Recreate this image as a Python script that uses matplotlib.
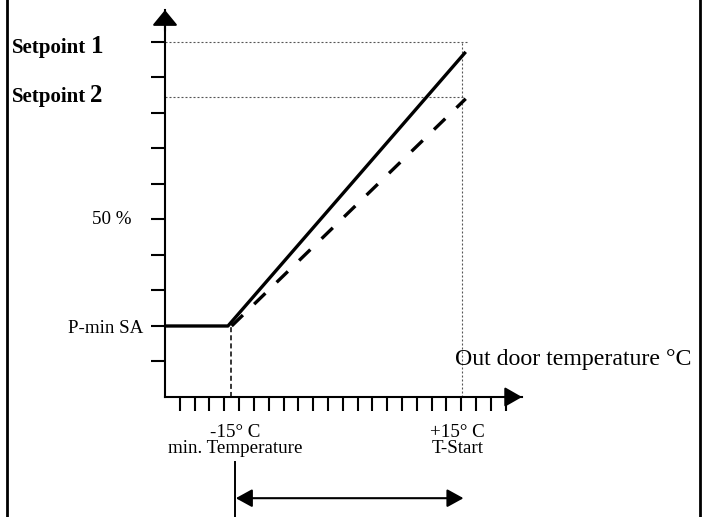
import numpy as np
import matplotlib
matplotlib.use("Agg")
import matplotlib.pyplot as plt
from matplotlib.lines import Line2D

plt.rcParams['font.family'] = ['Liberation Serif', 'DejaVu Serif']

# axis grid (in tick units)
x_ticks = np.arange(1, 24)
y_ticks = np.arange(1, 11)
x_end = 24.1
y_end = 10.9

# levels
p_min = 2.0
setpoint_1 = 10.0
setpoint_2 = 8.45
x_min_temp = 4.45   # -15 C
x_t_start = 20.05   # +15 C

# curves
curve1_x = [0, 4.25, 20.3]
curve1_y = [p_min, p_min, 9.72]
curve2_x = [4.5, 20.3]
curve2_y = [p_min, 8.4]

fs = 13.7

fig = plt.figure(figsize=(7.07, 5.17), dpi=100)
ax = fig.add_axes([165/707, 120/517, (522-165)/707, (397-10)/517])
ax.set_xlim(0, x_end)
ax.set_ylim(0, y_end)
for s in ['top', 'right']:
    ax.spines[s].set_visible(False)
for s in ['left', 'bottom']:
    ax.spines[s].set_linewidth(1.5)
ax.set_xticks(x_ticks)
ax.set_yticks(y_ticks)
ax.set_xticklabels([])
ax.set_yticklabels([])
ax.tick_params(direction='out', length=10, width=1.5, color='black')

# axis arrow heads
head = dict(arrowstyle='-|>,head_length=0.95,head_width=0.78', color='black',
            lw=1.5, mutation_scale=10, shrinkA=0, shrinkB=0)
ax.annotate('', xy=(0, y_end), xytext=(0, y_end - 0.6), arrowprops=head,
            annotation_clip=False)
ax.annotate('', xy=(x_end, 0), xytext=(x_end - 1.2, 0),
            arrowprops=dict(head, arrowstyle='-|>,head_length=1.05,head_width=0.6'),
            annotation_clip=False)

# helper lines
dot = dict(color='#555555', lw=0.8, ls=(0, (1.8, 1.8)), clip_on=False)
ax.plot([0, 20.4], [setpoint_1, setpoint_1], **dot)
ax.plot([0, 20.2], [setpoint_2, setpoint_2], **dot)
ax.plot([x_t_start, x_t_start], [0, setpoint_1], **dot)
ax.plot([x_min_temp, x_min_temp], [0, p_min], color='black', lw=1.1,
        ls=(0, (3.3, 2)))

# curves
ax.plot(curve1_x, curve1_y, color='black', lw=2.4, solid_capstyle='butt')
ax.plot(curve2_x, curve2_y, color='black', lw=2.4, ls=(0, (4.7, 4.7)))

# labels
ax.text(-10.35, 9.69, 'Setpoint', fontsize=15, fontweight='bold', va='baseline',
        ha='left', clip_on=False)
ax.text(-5.0, 9.69, '1', fontsize=18, fontweight='bold', va='baseline',
        ha='left', clip_on=False)
ax.text(-10.35, 8.31, 'Setpoint', fontsize=15, fontweight='bold', va='baseline',
        ha='left', clip_on=False)
ax.text(-5.05, 8.31, '2', fontsize=18, fontweight='bold', va='baseline',
        ha='left', clip_on=False)
ax.text(-2.23, 5.0, '50 %', fontsize=fs, ha='right', va='center', clip_on=False)
ax.text(-1.49, 1.94, 'P-min SA', fontsize=fs, ha='right', va='center', clip_on=False)
ax.text(19.6, 1.07, 'Out door temperature °C', fontsize=17.2, ha='left', va='center',
        clip_on=False)
ax.text(4.73, -1.0, '-15° C', fontsize=fs, ha='center', va='center', clip_on=False)
ax.text(4.73, -1.45, 'min. Temperature', fontsize=fs, ha='center', va='center',
        clip_on=False)
ax.text(19.75, -1.0, '+15° C', fontsize=fs, ha='center', va='center', clip_on=False)
ax.text(19.75, -1.45, 'T-Start', fontsize=fs, ha='center', va='center', clip_on=False)

# range marker below axis
ax.plot([4.73, 4.73], [-1.83, -3.5], color='black', lw=1.4, clip_on=False)
ax.annotate('', xy=(4.78, -2.85), xytext=(20.15, -2.85), annotation_clip=False,
            arrowprops=dict(arrowstyle='<|-|>,head_length=1.0,head_width=0.55',
                            color='black', lw=1.5, mutation_scale=10,
                            shrinkA=0, shrinkB=0))

# cell border
for xb in [7/707, 700/707]:
    fig.add_artist(Line2D([xb, xb], [0, 1], transform=fig.transFigure,
                          color='black', lw=2))

fig.savefig('out.png', dpi=100)
